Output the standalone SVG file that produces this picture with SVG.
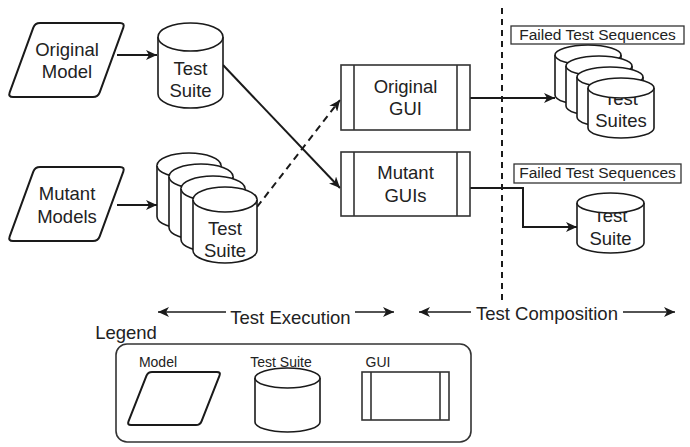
<svg xmlns="http://www.w3.org/2000/svg" width="690" height="447" viewBox="0 0 690 447">
<style>
text{font-family:"Liberation Sans",Arial,sans-serif;fill:#222;text-anchor:middle}
.lbl{font-size:18.5px}
.sm{font-size:15.5px}
.lg{font-size:14px}
.shape{fill:#fff;stroke:#1a1a1a;stroke-width:2;stroke-linejoin:round}
.cyl{fill:#fff;stroke:#1a1a1a;stroke-width:1.6}
.gui{fill:#fff;stroke:#333;stroke-width:1.6}
.edge{fill:none;stroke:#1a1a1a;stroke-width:2}
.dash{stroke-dasharray:7 5}
.sep{fill:none;stroke:#1a1a1a;stroke-width:2;stroke-dasharray:6 5}
.thin{fill:none;stroke:#1a1a1a;stroke-width:1.5}
</style>
<defs>
<marker id="arr" markerUnits="userSpaceOnUse" markerWidth="12" markerHeight="10" refX="11" refY="5" orient="auto-start-reverse">
<path d="M0,0 L11,5 L0,10 L3,5 Z" fill="#1a1a1a"/>
</marker>
</defs>

<g id="connectors">
<path class="edge" d="M117,55 H157" marker-end="url(#arr)"/>
<path class="edge" d="M117,205 H157" marker-end="url(#arr)"/>
<path class="edge" d="M223,65 L340,188" marker-end="url(#arr)"/>
<path class="edge dash" d="M257,207 L340,100" marker-end="url(#arr)"/>
<path class="edge" d="M470,98 H555" marker-end="url(#arr)"/>
<path class="edge" d="M470,188 H523 V227 H577" marker-end="url(#arr)"/>
<path class="thin" d="M226,312 H158" marker-end="url(#arr)"/>
<path class="thin" d="M355,312 H394" marker-end="url(#arr)"/>
<path class="thin" d="M471,312 H419" marker-end="url(#arr)"/>
<path class="thin" d="M623,312 H675" marker-end="url(#arr)"/>
</g>

<g id="separator">
<path class="sep" d="M502,8 V300"/>
</g>

<g id="original-model">
<path class="shape" d="M40,23 L120,23 Q125,23 123.3,27.7 L99.7,92.3 Q98,97 93,97 L13,97 Q8,97 9.7,92.3 L33.3,27.7 Q35,23 40,23 Z"/>
<text class="lbl" x="67" y="56">Original</text>
<text class="lbl" x="67" y="78">Model</text>
</g>

<g id="mutant-models">
<path class="shape" d="M40,167 L120,167 Q125,167 123.3,171.7 L99.7,236.3 Q98,241 93,241 L13,241 Q8,241 9.7,236.3 L33.3,171.7 Q35,167 40,167 Z"/>
<text class="lbl" x="67" y="200">Mutant</text>
<text class="lbl" x="67" y="223">Models</text>
</g>

<g id="test-suite">
<path class="cyl" d="M158,37 A32.5,14 0 0 1 223,37 V94 A32.5,14 0 0 1 158,94 Z"/>
<path class="cyl" fill="none" d="M158,37 A32.5,14 0 0 0 223,37"/>
<text class="lbl" x="190.5" y="75">Test</text>
<text class="lbl" x="190.5" y="97">Suite</text>
</g>

<g id="mutant-test-suites">
<path class="cyl" d="M157,165.5 A32,12.5 0 0 1 221,165.5 V216.5 A32,12.5 0 0 1 157,216.5 Z"/>
<path class="cyl" d="M157,165.5 A32,12.5 0 0 0 221,165.5"/>
<path class="cyl" d="M169,176.5 A32,12.5 0 0 1 233,176.5 V227.5 A32,12.5 0 0 1 169,227.5 Z"/>
<path class="cyl" d="M169,176.5 A32,12.5 0 0 0 233,176.5"/>
<path class="cyl" d="M181,188.5 A32,12.5 0 0 1 245,188.5 V239.5 A32,12.5 0 0 1 181,239.5 Z"/>
<path class="cyl" d="M181,188.5 A32,12.5 0 0 0 245,188.5"/>
<path class="cyl" d="M193,199.5 A32,12.5 0 0 1 257,199.5 V250.5 A32,12.5 0 0 1 193,250.5 Z"/>
<path class="cyl" d="M193,199.5 A32,12.5 0 0 0 257,199.5"/>
<text class="lbl" x="225" y="235">Test</text>
<text class="lbl" x="225" y="257">Suite</text>
</g>

<g id="original-gui">
<rect class="gui" x="341" y="65" width="129" height="65"/>
<path class="gui" d="M354,65 V130 M457,65 V130"/>
<text class="lbl" x="405.5" y="93">Original</text>
<text class="lbl" x="405.5" y="115">GUI</text>
</g>

<g id="mutant-guis">
<rect class="gui" x="341" y="152" width="129" height="64"/>
<path class="gui" d="M354,152 V216 M457,152 V216"/>
<text class="lbl" x="405.5" y="179">Mutant</text>
<text class="lbl" x="405.5" y="202">GUIs</text>
</g>

<g id="failed-label-1">
<rect x="511" y="26" width="173" height="18" fill="#fff" stroke="#333" stroke-width="1.3"/>
<text class="sm" x="597.5" y="40">Failed Test Sequences</text>
</g>

<g id="failed-test-suites">
<path class="cyl" d="M555,55 A33,10 0 0 1 621,55 V95 A33,10 0 0 1 555,95 Z"/>
<path class="cyl" d="M555,55 A33,10 0 0 0 621,55"/>
<path class="cyl" d="M566,66 A33,10 0 0 1 632,66 V106 A33,10 0 0 1 566,106 Z"/>
<path class="cyl" d="M566,66 A33,10 0 0 0 632,66"/>
<path class="cyl" d="M577,77 A33,10 0 0 1 643,77 V117 A33,10 0 0 1 577,117 Z"/>
<path class="cyl" d="M577,77 A33,10 0 0 0 643,77"/>
<path class="cyl" d="M588,88 A33,10 0 0 1 654,88 V128 A33,10 0 0 1 588,128 Z"/>
<text class="lbl" x="621" y="105">Test</text>
<text class="lbl" x="621" y="127">Suites</text>
<path class="cyl" fill="none" d="M588,88 A33,10 0 0 0 654,88"/>
</g>

<g id="failed-label-2">
<rect x="514" y="164" width="167" height="19" fill="#fff" stroke="#333" stroke-width="1.3"/>
<text class="sm" x="597.5" y="178">Failed Test Sequences</text>
</g>

<g id="failed-test-suite">
<path class="cyl" d="M577,203 A33.5,10 0 0 1 644,203 V243 A33.5,10 0 0 1 577,243 Z"/>
<text class="lbl" x="610.5" y="222">Test</text>
<text class="lbl" x="610.5" y="245">Suite</text>
<path class="cyl" fill="none" d="M577,203 A33.5,10 0 0 0 644,203"/>
</g>

<g id="phase-labels">
<text class="lbl" x="290.5" y="324">Test Execution</text>
<text class="lbl" x="547" y="320">Test Composition</text>
</g>

<g id="legend">
<text class="lbl" x="126" y="339">Legend</text>
<rect x="116" y="344" width="355" height="98" rx="11" fill="none" stroke="#333" stroke-width="1.6"/>
<text class="lg" x="158" y="367">Model</text>
<path class="shape" d="M152,372 L217,372 Q221,372 219.5,375.7 L201.5,421.3 Q200,425 196,425 L131,425 Q127,425 128.5,421.3 L146.5,375.7 Q148,372 152,372 Z"/>
<path class="cyl" d="M255,378 A32.5,10 0 0 1 320,378 V422 A32.5,10 0 0 1 255,422 Z"/>
<path class="cyl" d="M255,378 A32.5,10 0 0 0 320,378"/>
<text class="lg" x="281" y="367">Test Suite</text>
<rect class="gui" x="362" y="372" width="87" height="48"/>
<path class="gui" d="M371,372 V420 M440,372 V420"/>
<text class="lg" x="378" y="367">GUI</text>
</g>
</svg>
